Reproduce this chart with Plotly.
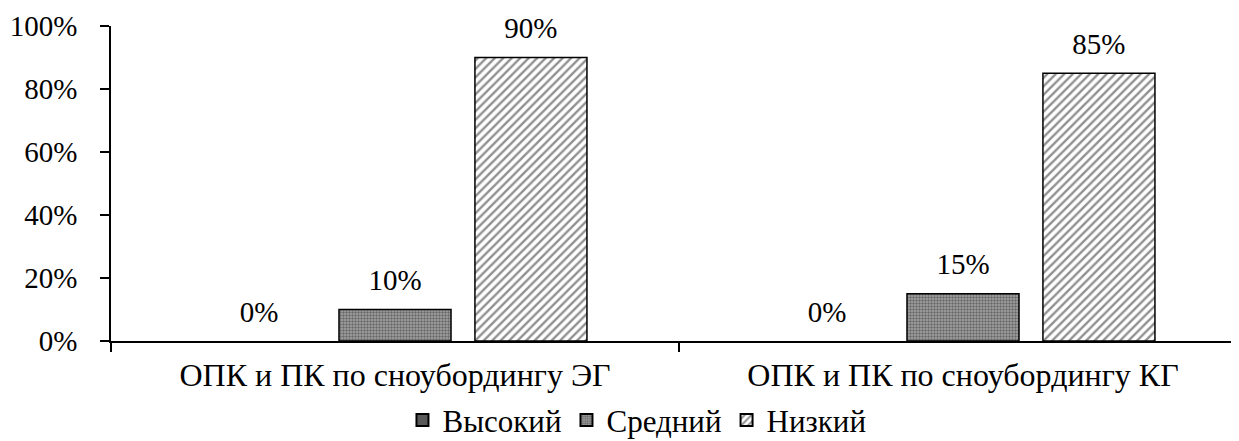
import plotly.graph_objects as go

categories = ["ОПК и ПК по сноубордингу ЭГ", "ОПК и ПК по сноубордингу КГ"]
series_names = ["Высокий", "Средний", "Низкий"]
vysokiy = [0.00, 0.00]
sredniy = [0.10, 0.15]
nizkiy = [0.90, 0.85]
y_ticks = [0, 0.2, 0.4, 0.6, 0.8, 1.0]

FONT = "Liberation Serif"
FS_TICK = 29
FS_LABEL = 29
FS_CAT = 32
FS_LEG = 31

styles = [
    dict(color="#595959", pattern=dict(shape="")),
    dict(color="#8c8c8c", pattern=dict(shape=".", fgcolor="#2a2a2a", bgcolor="#a6a6a6", size=3, solidity=0.5)),
    dict(color="white", pattern=dict(shape="/", fgcolor="#222222", bgcolor="white", size=6, solidity=0.4)),
]

fig = go.Figure()
for name, vals, st in zip(series_names, [vysokiy, sredniy, nizkiy], styles):
    fig.add_trace(go.Bar(
        name=name, x=categories, y=vals,
        marker=dict(color=st["color"], pattern=st["pattern"],
                    line=dict(color="black", width=[0 if v == 0 else 1.5 for v in vals])),
        text=[f"{v*100:.0f}%" for v in vals], textposition="outside",
        texttemplate="<span style='font-size:%dpx'>%%{text}</span><br> " % FS_LABEL,
        textfont=dict(family=FONT, size=11, color="black"),
        constraintext="none",
        cliponaxis=False,
    ))

# page body has an 8px margin, so the figure is offset by 8px
fig.update_layout(
    width=1239, height=441,
    margin=dict(l=103, r=0, t=18, b=108, autoexpand=False),
    paper_bgcolor="white", plot_bgcolor="white",
    barmode="group", bargap=0.282, bargroupgap=0.176,
    font=dict(family=FONT, size=FS_TICK, color="black"),
    showlegend=True,
    legend=dict(orientation="h", x=0.463, xanchor="center", y=-0.252, yanchor="middle",
                font=dict(family=FONT, size=FS_LEG), itemwidth=30, traceorder="normal",
                tracegroupgap=0, itemsizing="constant"),
)
fig.update_xaxes(
    type="category", range=[-0.5, 1.5], tickson="boundaries",
    ticks="outside", ticklen=9, tickcolor="black", tickwidth=1.5,
    showline=True, linecolor="black", linewidth=1.5,
    tickfont=dict(family=FONT, size=FS_CAT), showgrid=False,
    automargin=False, ticklabelstandoff=5,
)
fig.update_yaxes(
    range=[0, 1], tickvals=y_ticks, tickformat=".0%",
    ticks="outside", ticklen=9, tickcolor="black", tickwidth=1.5,
    showline=True, linecolor="black", linewidth=1.5,
    showgrid=False, zeroline=False, automargin=False,
    tickfont=dict(family=FONT, size=FS_TICK), ticklabelstandoff=17,
)

fig.write_html("out.html")
